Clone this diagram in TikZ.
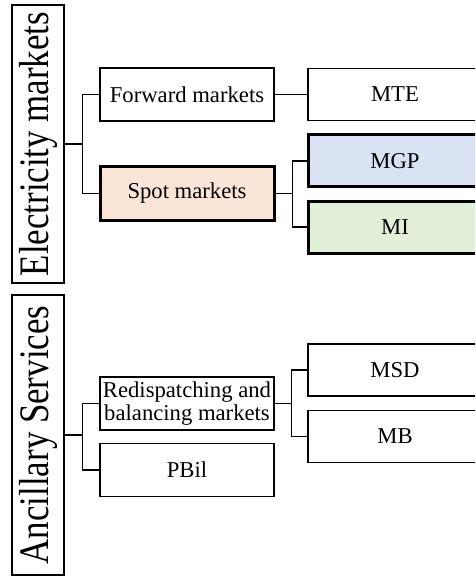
\documentclass[tikz,border=0pt]{standalone}
\usepackage{fontspec}
\setmainfont{Liberation Serif}
\newfontfamily\sidefont[FakeStretch=0.83]{Liberation Serif}
\usetikzlibrary{positioning}

\definecolor{spotfill}{HTML}{FBE5D6}
\definecolor{mgpfill}{HTML}{DAE3F3}
\definecolor{mifill}{HTML}{E2F0D9}

\begin{document}
\begin{tikzpicture}[x=0.75pt, y=-0.75pt,
    box/.style={draw, line width=1.1pt, inner sep=0pt, align=center,
        minimum width=130.5pt, minimum height=39.75pt,
        font=\fontsize{17}{17.5}\selectfont},
    widebox/.style={box, minimum height=39pt},
    heavy/.style={line width=2.25pt},
    sidebox/.style={draw, line width=1.1pt, rotate=90, inner sep=0pt,
        minimum width=208.5pt, minimum height=39pt,
        font=\sidefont\fontsize{31.5}{33}\selectfont},
    link/.style={line width=1.1pt}]
    % Canvas (right column runs off the edge)
    \clip (0,0) rectangle (475,577);

    % Electricity markets
    \node[sidebox] (elec) at (38,144) {Electricity markets};
    \node[box] (fwd) at (187,94.5) {Forward markets};
    \node[box, heavy, fill=spotfill] (spot) at (187,193.5) {Spot markets};
    \node[widebox] (mte) at (395,94.5) {MTE};
    \node[widebox, heavy, fill=mgpfill] (mgp) at (395,161) {MGP};
    \node[widebox, heavy, fill=mifill] (mi) at (395,227) {MI};

    % Ancillary services
    \node[sidebox, minimum width=210pt] (anc) at (38,435) {Ancillary Services};
    \node[box] (redisp) at (187,403.5) {Redispatching and\\balancing markets};
    \node[box] (pbil) at (187,470) {PBil};
    \node[widebox] (msd) at (395,370) {MSD};
    \node[widebox] (mb) at (395,436.5) {MB};

    % Forks
    \draw[link] (elec.south) -- ++(18,0) coordinate (efork);
    \foreach \child in {fwd,spot}
        \draw[link] (efork) |- (\child.west);
    \draw[link] (fwd.east) -- (mte.west);
    \draw[link] (spot.east) -- ++(17,0) coordinate (sfork);
    \foreach \child in {mgp,mi}
        \draw[link] (sfork) |- (\child.west);

    \draw[link] (anc.south) -- ++(18,0) coordinate (afork);
    \foreach \child in {redisp,pbil}
        \draw[link] (afork) |- (\child.west);
    \draw[link] (redisp.east) -- ++(17,0) coordinate (rfork);
    \foreach \child in {msd,mb}
        \draw[link] (rfork) |- (\child.west);
\end{tikzpicture}
\end{document}
